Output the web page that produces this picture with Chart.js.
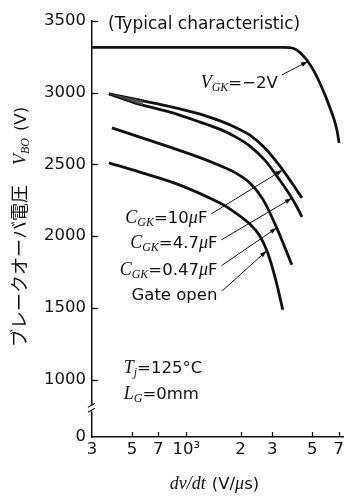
<!DOCTYPE html>
<html>
<head>
<meta charset="utf-8">
<script src="https://cdn.jsdelivr.net/npm/chart.js@4.4.0/dist/chart.umd.min.js"></script>
<style>
  html, body { margin: 0; padding: 0; background: #fff; }
  #wrap { width: 344px; height: 498px; position: relative; }
</style>
</head>
<body>
<div id="wrap"><canvas id="c" width="344" height="498"></canvas></div>
<script>
// Axis ranges and tick labels (dv/dt in V/µs, breakover voltage in V)
const xMin = 300, xMax = 7400;
const yMin = 600, yMax = 3500;           // axis is broken below 1000 V; bottom tick reads 0
const xTickValues = [300, 500, 700, 1000, 2000, 3000, 5000, 7000];
const xTickLabels = ['3', '5', '7', '10³', '2', '3', '5', '7'];
const yTickValues = [600, 1000, 1500, 2000, 2500, 3000, 3500];
const yTickLabels = ['0', '1000', '1500', '2000', '2500', '3000', '3500'];
const yBreakValue = 800;

// V_GK = -2 V
const rateVgkNeg2 = [300, 1000, 2000, 3300, 3750, 4054, 4260, 4484, 4730, 5100, 5505, 5940, 6270, 6615, 6860, 7040];
const vboVgkNeg2  = [3316, 3316, 3316, 3316, 3314, 3302, 3281, 3253, 3218, 3152, 3068, 2971, 2894, 2811, 2735, 2650];

// C_GK = 10 µF
const rateCgk10 = [372, 547, 804, 1182, 1567, 1876, 2245, 2720, 3300, 3848, 4380];
const vboCgk10  = [2992, 2950, 2905, 2852, 2800, 2758, 2706, 2616, 2490, 2372, 2267];

// C_GK = 4.7 µF
const rateCgk47 = [372, 547, 804, 1182, 1567, 1876, 2245, 2720, 3175, 3750, 4100, 4380];
const vboCgk47  = [2992, 2920, 2866, 2797, 2741, 2692, 2630, 2532, 2421, 2288, 2205, 2135];

// C_GK = 0.47 µF
const rateCgk047 = [387, 547, 804, 1182, 1567, 1876, 2245, 2652, 3175, 3848];
const vboCgk047  = [2755, 2692, 2622, 2549, 2487, 2441, 2372, 2260, 2058, 1801];

// Gate open
const rateGateOpen = [372, 547, 914, 1528, 1875, 2245, 2553, 2828, 3134, 3430];
const vboGateOpen  = [2511, 2448, 2358, 2233, 2163, 2086, 2003, 1884, 1696, 1487];

// Shaded band between the 10 µF and 4.7 µF curves at low dv/dt
const rateShade = [372, 460, 576];
const vboShade  = [2992, 2972, 2945];

const SANS = '"DejaVu Sans", sans-serif';
const SERIF_I = 'italic 18px "Liberation Serif", serif';
const SUB_I = 'italic 12px "Liberation Serif", serif';
const SANS_F = '16.5px ' + SANS;

const pts = (xs, ys) => xs.map((x, i) => ({ x, y: ys[i] }));

// Callout labels: arrow tip on a curve, arrow tail next to the text (data units)
const callouts = [
  { tip: [4730, 3218], tail: [3385, 3124], dx: -4, dy: 13,
    parts: [{ t: 'V', f: SERIF_I }, { t: 'GK', f: SUB_I, dy: 3 }, { t: '=−2V', f: SANS_F }] },
  { tip: [3428, 2462], tail: [1378, 2156], dx: -4, dy: 9.5,
    parts: [{ t: 'C', f: SERIF_I }, { t: 'GK', f: SUB_I, dy: 3 }, { t: '=10', f: SANS_F }, { t: 'μ', f: SERIF_I }, { t: 'F', f: SANS_F }] },
  { tip: [3848, 2264], tail: [1567, 1975], dx: -4, dy: 8.5,
    parts: [{ t: 'C', f: SERIF_I }, { t: 'GK', f: SUB_I, dy: 3 }, { t: '=4.7', f: SANS_F }, { t: 'μ', f: SERIF_I }, { t: 'F', f: SANS_F }] },
  { tip: [3175, 2058], tail: [1567, 1794], dx: -4, dy: 9.5,
    parts: [{ t: 'C', f: SERIF_I }, { t: 'GK', f: SUB_I, dy: 3 }, { t: '=0.47', f: SANS_F }, { t: 'μ', f: SERIF_I }, { t: 'F', f: SANS_F }] },
  { tip: [2792, 1898], tail: [1587, 1620], dx: -5, dy: 9.5,
    parts: [{ t: 'Gate open', f: SANS_F }] }
];

// Test conditions, left-aligned at the given data position
const conditions = [
  { at: [450, 1090], parts: [{ t: 'T', f: SERIF_I }, { t: 'j', f: SUB_I, dy: 3 }, { t: '=125°C', f: SANS_F }] },
  { at: [450, 910],  parts: [{ t: 'L', f: SERIF_I }, { t: 'G', f: SUB_I, dy: 3 }, { t: '=0mm', f: SANS_F }] }
];

function richWidth(ctx, parts) {
  let w = 0;
  parts.forEach(p => { if (p.gap) { w += p.gap; return; } ctx.font = p.f; w += ctx.measureText(p.t).width; });
  return w;
}
function drawRich(ctx, parts, x, y, align) {
  const w = richWidth(ctx, parts);
  let cx = align === 'right' ? x - w : align === 'center' ? x - w / 2 : x;
  ctx.textAlign = 'left';
  ctx.textBaseline = 'alphabetic';
  parts.forEach(p => {
    if (p.gap) { cx += p.gap; return; }
    ctx.font = p.f;
    ctx.fillText(p.t, cx, y + (p.dy || 0));
    cx += ctx.measureText(p.t).width;
  });
}
function arrow(ctx, x1, y1, x2, y2) {
  ctx.beginPath(); ctx.moveTo(x1, y1); ctx.lineTo(x2, y2); ctx.stroke();
  const a = Math.atan2(y2 - y1, x2 - x1), L = 7, W = 2.3;
  ctx.beginPath();
  ctx.moveTo(x2, y2);
  ctx.lineTo(x2 - L * Math.cos(a) + W * Math.sin(a), y2 - L * Math.sin(a) - W * Math.cos(a));
  ctx.lineTo(x2 - L * Math.cos(a) - W * Math.sin(a), y2 - L * Math.sin(a) + W * Math.cos(a));
  ctx.closePath(); ctx.fill();
}

const decorations = {
  id: 'decorations',
  afterDraw(chart) {
    const { ctx, chartArea: a, scales: { x, y } } = chart;
    ctx.save();
    ctx.fillStyle = '#111';
    ctx.strokeStyle = '#111';

    // inward tick marks
    ctx.lineWidth = 1.3;
    yTickValues.forEach(v => {
      if (v === yMin) return;
      const py = Math.round(y.getPixelForValue(v)) + 0.5;
      ctx.beginPath(); ctx.moveTo(a.left, py); ctx.lineTo(a.left + 6, py); ctx.stroke();
    });
    xTickValues.forEach(v => {
      if (v === xMin) return;
      const px = Math.round(x.getPixelForValue(v)) + 0.5;
      ctx.beginPath(); ctx.moveTo(px, a.bottom); ctx.lineTo(px, a.bottom - 5); ctx.stroke();
    });

    // axis break marks
    const by = y.getPixelForValue(yBreakValue);
    ctx.fillStyle = '#fff';
    ctx.fillRect(a.left - 2, by - 3, 4, 6);
    ctx.fillStyle = '#111';
    ctx.lineWidth = 1.2;
    ctx.beginPath();
    ctx.moveTo(a.left - 4, by - 1); ctx.lineTo(a.left + 3, by - 5);
    ctx.moveTo(a.left - 4, by + 4); ctx.lineTo(a.left + 3, by);
    ctx.stroke();

    // callouts
    ctx.lineWidth = 1;
    callouts.forEach(c => {
      const tx = x.getPixelForValue(c.tail[0]), ty = y.getPixelForValue(c.tail[1]);
      const hx = x.getPixelForValue(c.tip[0]), hy = y.getPixelForValue(c.tip[1]);
      arrow(ctx, tx, ty, hx, hy);
      drawRich(ctx, c.parts, tx + c.dx, ty + c.dy, 'right');
    });

    // conditions
    conditions.forEach(c => {
      drawRich(ctx, c.parts, x.getPixelForValue(c.at[0]), y.getPixelForValue(c.at[1]) + 6, 'left');
    });

    // heading inside the plot
    drawRich(ctx, [{ t: '(Typical characteristic)', f: '17px ' + SANS }], a.left + 16, a.top + 8, 'left');

    // x-axis title
    drawRich(ctx, [{ t: 'dv/dt', f: SERIF_I }, { gap: 6 }, { t: '(V/', f: SANS_F }, { t: 'μ', f: SERIF_I }, { t: 's)', f: SANS_F }],
      (a.left + a.right) / 2 - 3, 489, 'center');

    // y-axis title (rotated)
    const yTitle = [
      { t: 'ブレークオーバ電圧', f: '18px "Noto Sans CJK JP", sans-serif' },
      { gap: 20 },
      { t: 'V', f: SERIF_I }, { t: 'BO', f: SUB_I, dy: 3 },
      { gap: 7 },
      { t: '(V)', f: SANS_F }
    ];
    ctx.translate(20, 227);
    ctx.rotate(-Math.PI / 2);
    drawRich(ctx, yTitle, 0, 6, 'center');
    ctx.restore();
  }
};

const lineDs = (xs, ys) => ({
  data: pts(xs, ys), borderColor: '#111', borderWidth: 2.8, pointRadius: 0,
  tension: 0.3, fill: false
});

new Chart(document.getElementById('c'), {
  type: 'line',
  data: {
    datasets: [
      { data: pts(rateShade, vboShade), borderWidth: 0, pointRadius: 0, tension: 0.3,
        fill: 3, backgroundColor: 'rgba(80,80,80,0.8)' },
      lineDs(rateVgkNeg2, vboVgkNeg2),
      lineDs(rateCgk10, vboCgk10),
      lineDs(rateCgk47, vboCgk47),
      lineDs(rateCgk047, vboCgk047),
      lineDs(rateGateOpen, vboGateOpen)
    ]
  },
  options: {
    responsive: false,
    animation: false,
    layout: { padding: { top: 21, right: 1, left: 0, bottom: 0 } },
    plugins: { legend: { display: false }, tooltip: { enabled: false } },
    scales: {
      x: {
        type: 'logarithmic', min: xMin, max: xMax,
        afterBuildTicks: s => { s.ticks = xTickValues.map(v => ({ value: v })); },
        afterFit: s => { s.height = 61; s.paddingLeft = 0; s.paddingRight = 0; },
        grid: { display: false, drawTicks: false },
        border: { display: true, color: '#111', width: 1.5 },
        ticks: {
          autoSkip: false, maxRotation: 0, minRotation: 0, padding: 3, color: '#111',
          font: { family: SANS, size: 16.5 },
          callback: (v, i) => xTickLabels[i]
        }
      },
      y: {
        type: 'linear', min: yMin, max: yMax,
        afterBuildTicks: s => { s.ticks = yTickValues.map(v => ({ value: v })); },
        afterFit: s => { s.width = 92; s.paddingTop = 0; s.paddingBottom = 0; },
        grid: { display: false, drawTicks: false },
        border: { display: true, color: '#111', width: 1.5 },
        ticks: {
          padding: 6, color: '#111',
          font: { family: SANS, size: 16.5 },
          callback: (v, i) => yTickLabels[i]
        }
      }
    }
  },
  plugins: [decorations]
});
</script>
</body>
</html>
